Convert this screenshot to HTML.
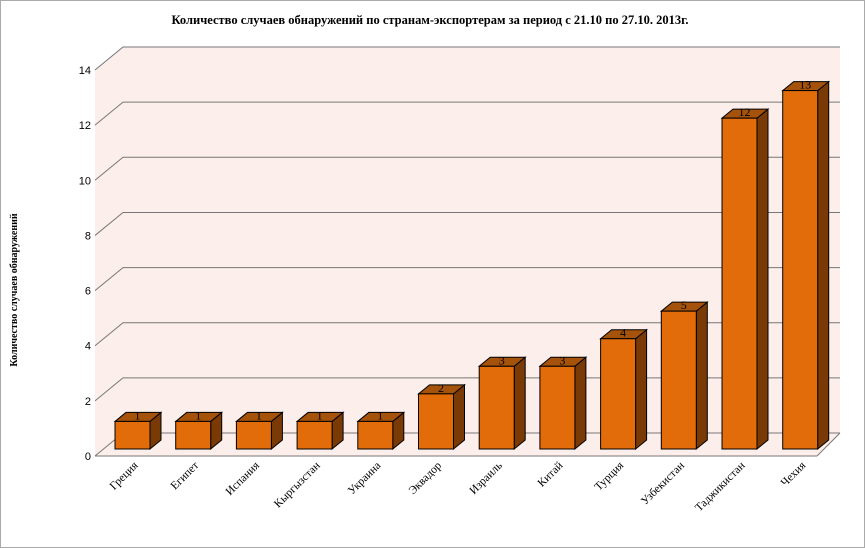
<!DOCTYPE html>
<html><head><meta charset="utf-8"><style>
body{margin:0;background:#fff}
svg{display:block;font-family:"Liberation Serif",serif}
</style></head><body>
<svg width="865" height="548" viewBox="0 0 865 548">
<rect x="0.5" y="0.5" width="864" height="547" fill="#fff" stroke="#aaa"/>
<text x="430" y="24" text-anchor="middle" font-weight="bold" font-size="12.5">Количество случаев обнаружений по странам-экспортерам за период с 21.10 по 27.10. 2013г.</text>
<text transform="translate(17,290) rotate(-90)" text-anchor="middle" font-weight="bold" font-size="10">Количество случаев обнаружений</text>
<g id="plot"></g>
</svg>
<script>
const categories=["Греция","Египет","Испания","Кыргызстан","Украина","Эквадор","Израиль","Китай","Турция","Узбекистан","Таджикистан","Чехия"];
const values=[1,1,1,1,1,2,3,3,4,5,12,13];
const ticks=[0,2,4,6,8,10,12,14];
const NS="http://www.w3.org/2000/svg";
const g=document.getElementById("plot");
const unit=27.57, frontX=95, frontY0=456, dx=28, dy=-23, backR=840;
function yFront(v){return frontY0-v*unit;}
function mk(t,a){const e=document.createElementNS(NS,t);for(const k in a)e.setAttribute(k,a[k]);g.appendChild(e);return e;}
let w=mk("polygon",{points:`${frontX},${yFront(0)} ${frontX},${yFront(14)} ${frontX+dx},${yFront(14)+dy} ${backR},${yFront(14)+dy} ${backR},${yFront(0)+dy} ${backR-dx+5},${yFront(0)} `,fill:"#fcefeb"});


ticks.forEach(t=>{
  const y=yFront(t);
  const l=mk("polyline",{points:`${frontX},${y} ${frontX+dx},${y+dy} ${backR},${y+dy}`,fill:"none",stroke:"#777","stroke-width":1});
  
  
  const tx=mk("text",{x:frontX-4,y:y+4,"text-anchor":"end","font-size":"11","font-family":"Liberation Sans, sans-serif"});
  tx.textContent=t;
  
  
});
let fl=mk("line",{x1:frontX,y1:frontY0,x2:backR-dx+5,y2:frontY0,stroke:"#777"});


let rl=mk("line",{x1:backR-dx+5,y1:frontY0,x2:backR,y2:frontY0+dy,stroke:"#777"});


const slot=60.7, bw=35, bdx=11, bdy=-9, base=449;
categories.forEach((c,i)=>{
  const x=115+i*slot, v=values[i], top=base-v*unit;
  const grp=document.createElementNS(NS,"g");g.appendChild(grp);
  
  
  const add=(t,a)=>{const e=document.createElementNS(NS,t);for(const k in a)e.setAttribute(k,a[k]);grp.appendChild(e);return e;};
  add("polygon",{points:`${x+bw},${base} ${x+bw},${top} ${x+bw+bdx},${top+bdy} ${x+bw+bdx},${base+bdy}`,fill:"#7a3a06",stroke:"#000","stroke-width":1});
  add("polygon",{points:`${x},${top} ${x+bdx},${top+bdy} ${x+bw+bdx},${top+bdy} ${x+bw},${top}`,fill:"#a5520b",stroke:"#000","stroke-width":1});
  add("rect",{x:x,y:top,width:bw,height:base-top,fill:"#e36c0a",stroke:"#000","stroke-width":1});
  const lb=add("text",{x:x+bw/2+5,y:top-2,"text-anchor":"middle","font-size":"12"});
  lb.textContent=v;
  
  
  const cx=x+bw/2+6;
  const ct=mk("text",{transform:`translate(${cx},${466}) rotate(-45)`,"text-anchor":"end","font-size":"11.5"});
  ct.textContent=c;
  
  
});
</script>
</body></html>
